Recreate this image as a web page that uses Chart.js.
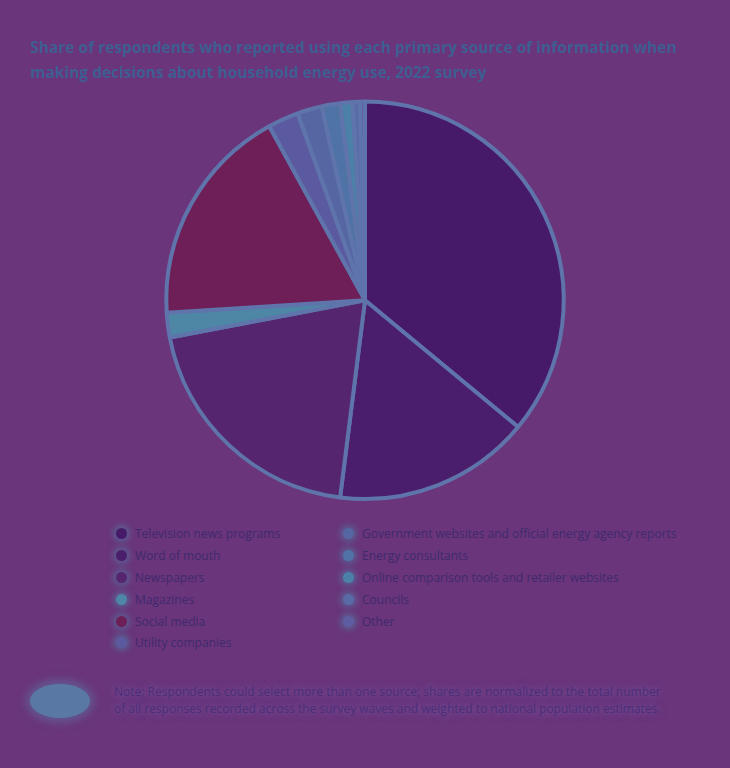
<!DOCTYPE html>
<html>
<head>
<meta charset="utf-8">
<script src="https://cdn.jsdelivr.net/npm/chart.js@4.4.1/dist/chart.umd.min.js"></script>
<style>
  html, body { margin:0; padding:0; background:#6a357a; }
  #wrap { position:relative; width:730px; height:768px; background:#6a357a; font-family:"Open Sans", "DejaVu Sans", sans-serif; }
  #chartBox { position:absolute; left:0; top:0; width:730px; height:505px; }
  .legend { position:absolute; top:523px; }
  .legend .item { display:flex; align-items:center; height:21.8px; font-size:12px; color:#3f2a6e; white-space:nowrap; }
  .legend .dot { width:11px; height:11px; border-radius:50%; margin-right:8px; flex:none; box-shadow:0 0 6px 3px rgba(80,130,170,0.55); }
  #legL { left:116px; }
  #legR { left:343px; }
  #foot { position:absolute; left:0; top:680px; width:730px; height:50px; }
  #badge { position:absolute; left:30px; top:4px; width:60px; height:34px; border-radius:50%; background:#5a78a4; box-shadow:0 0 10px 4px rgba(90,130,170,0.5); }
  #note { position:absolute; left:114px; top:3px; white-space:nowrap; font-size:12px; line-height:17px; color:#4a2f78; text-shadow:0 0 8px rgba(130,110,190,0.9); }
</style>
</head>
<body>
<div id="wrap">
  <div id="chartBox"><canvas id="c"></canvas></div>
  <div class="legend" id="legL"></div>
  <div class="legend" id="legR"></div>
  <div id="foot"><div id="badge"></div><div id="note">Note: Respondents could select more than one source; shares are normalized to the total number<br>of all responses recorded across the survey waves and weighted to national population estimates.</div></div>
</div>
<script>
const titleLines = [
  "Share of respondents who reported using each primary source of information when",
  "making decisions about household energy use, 2022 survey"
];
const categories = [
  "Television news programs",
  "Word of mouth",
  "Newspapers",
  "Magazines",
  "Social media",
  "Utility companies",
  "Government websites and official energy agency reports",
  "Energy consultants",
  "Online comparison tools and retailer websites",
  "Councils",
  "Other"
];
const shares = [36, 16, 20, 2, 18, 2.5, 2, 1.5, 1, 0.6, 0.4];
const sliceColors = [
  "#461a69", "#4b1e6b", "#55266f", "#4e86a6", "#6e1f57",
  "#5b5aa0", "#5566a3", "#4f73a5", "#4b80a8", "#5a6aa6", "#5f5da2"
];

const chart = new Chart(document.getElementById('c'), {
  type: 'pie',
  data: {
    labels: categories,
    datasets: [{
      data: shares,
      backgroundColor: sliceColors,
      borderColor: '#5f74aa',
      borderWidth: 4
    }]
  },
  options: {
    responsive: true,
    maintainAspectRatio: false,
    animation: false,
    layout: { padding: { left: 30, right: 30, top: 0, bottom: 4 } },
    plugins: {
      legend: { display: false },
      tooltip: { enabled: false },
      title: {
        display: true,
        text: titleLines,
        align: 'start',
        color: '#3e5f92',
        font: { family: "'Open Sans', 'DejaVu Sans', sans-serif", size: 15.5, weight: 'bold', lineHeight: 1.6 },
        padding: { top: 36, bottom: 14 }
      }
    }
  }
});

// HTML legend built from the chart's own data
const legL = document.getElementById('legL');
const legR = document.getElementById('legR');
chart.data.labels.forEach((lab, i) => {
  const row = document.createElement('div');
  row.className = 'item';
  const dot = document.createElement('span');
  dot.className = 'dot';
  dot.style.background = chart.data.datasets[0].backgroundColor[i];
  const t = document.createElement('span');
  t.textContent = lab;
  row.appendChild(dot); row.appendChild(t);
  (i < 6 ? legL : legR).appendChild(row);
});
</script>
</body>
</html>
